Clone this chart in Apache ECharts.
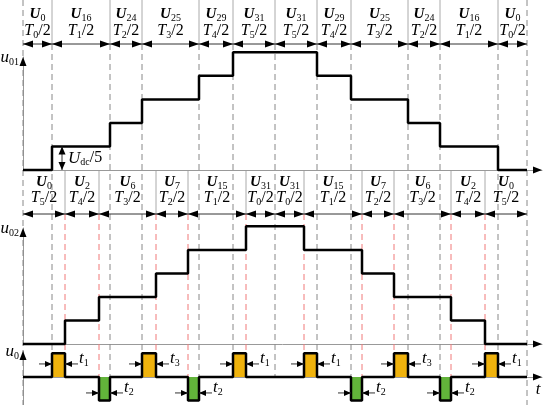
<!DOCTYPE html>
<html>
<head>
<meta charset="utf-8">
<script src="https://cdn.jsdelivr.net/npm/echarts@6/dist/echarts.min.js"></script>
<style>
html, body { margin: 0; padding: 0; background: #fff; }
#chart { width: 550px; height: 405px; }
</style>
</head>
<body>
<div id="chart"></div>
<script>
// half switching times T0/2 .. T5/2 (time units)
const halfT = [29, 58, 32, 57, 34, 42];

// upper sequence -> u01
const seq1Vec = ['0', '16', '24', '25', '29', '31', '31', '29', '25', '24', '16', '0'];
const seq1T = [0, 1, 2, 3, 4, 5, 5, 4, 3, 2, 1, 0];
const seq1Lvl = [0, 1, 2, 3, 4, 5, 5, 4, 3, 2, 1, 0];

// lower sequence -> u02
const seq2Vec = ['0', '2', '6', '7', '15', '31', '31', '15', '7', '6', '2', '0'];
const seq2T = [5, 4, 3, 2, 1, 0, 0, 1, 2, 3, 4, 5];
const seq2Lvl = [0, 1, 2, 3, 4, 5, 5, 4, 3, 2, 1, 0];

// pulse width names for u0 = u01 - u02
const pulseLabels = ['1', '2', '3', '2', '1', '1', '2', '3', '2', '1'];

const XMAX = 519;
const SERIF = '"Liberation Serif", "DejaVu Serif", serif';
const ORANGE = '#EFB20C';
const GREEN = '#62B43A';

function bounds(tIdx) {
  const b = [0];
  tIdx.forEach(k => b.push(b[b.length - 1] + halfT[k]));
  return b;
}
const b1 = bounds(seq1T);
const b2 = bounds(seq2T);
const END = b1[b1.length - 1];

function levelAt(b, lvl, t) {
  for (let i = 0; i < lvl.length; i++) if (t >= b[i] && t < b[i + 1]) return lvl[i];
  return 0;
}
function stepData(b, lvl) {
  return lvl.map((v, i) => [b[i], v]).concat([[b[b.length - 1], lvl[lvl.length - 1]]]);
}

const cuts = Array.from(new Set(b1.concat(b2))).sort((a, b) => a - b);
const u0Seg = [];
for (let i = 0; i < cuts.length - 1; i++) {
  const m = (cuts[i] + cuts[i + 1]) / 2;
  u0Seg.push([cuts[i], cuts[i + 1], levelAt(b1, seq1Lvl, m) - levelAt(b2, seq2Lvl, m)]);
}
const u0Line = u0Seg.map(s => [s[0], s[2]]).concat([[END, 0]]);
const u0Pos = u0Seg.map(s => [s[0], Math.max(s[2], 0)]).concat([[END, 0]]);
const u0Neg = u0Seg.map(s => [s[0], Math.min(s[2], 0)]).concat([[END, 0]]);
const pulses = u0Seg.filter(s => s[2] !== 0);

// vertical guide lines: 1 = outer edge, 0 = upper sequence, 2 = lower sequence
const guides = [];
b1.forEach((x, i) => guides.push([x, (i === 0 || i === b1.length - 1) ? 1 : 0]));
b2.forEach((x, i) => {
  if (i > 0 && i < b2.length - 1 && b1.indexOf(x) < 0) guides.push([x, 2]);
});

const RICH = {
  U: { fontFamily: SERIF, fontStyle: 'italic', fontWeight: 'bold', fontSize: 15, lineHeight: 22, verticalAlign: 'middle' },
  T: { fontFamily: SERIF, fontStyle: 'italic', fontSize: 16, lineHeight: 22, verticalAlign: 'middle' },
  i: { fontFamily: SERIF, fontStyle: 'italic', fontSize: 17, lineHeight: 22, verticalAlign: 'middle' },
  n: { fontFamily: SERIF, fontSize: 16, lineHeight: 22, verticalAlign: 'middle' },
  s: { fontFamily: SERIF, fontSize: 10, lineHeight: 12, padding: [9, 0, 0, 0], verticalAlign: 'middle' }
};

function seg(x1, y1, x2, y2, stroke, w, dash) {
  const style = { stroke: stroke, lineWidth: w || 1 };
  if (dash) style.lineDash = dash;
  return { type: 'line', shape: { x1, y1, x2, y2 }, style };
}
function head(tip, dir, len, half) {
  const x = tip[0], y = tip[1];
  let pts;
  if (dir === 'l') pts = [[x, y], [x + len, y - half], [x + len, y + half]];
  else if (dir === 'r') pts = [[x, y], [x - len, y - half], [x - len, y + half]];
  else if (dir === 'u') pts = [[x, y], [x - half, y + len], [x + half, y + len]];
  else pts = [[x, y], [x - half, y - len], [x + half, y - len]];
  return { type: 'polygon', shape: { points: pts }, style: { fill: '#000' } };
}
function txt(x, y, text, align) {
  return {
    type: 'text', x, y,
    style: { text, rich: RICH, align: align || 'center', verticalAlign: 'middle', fill: '#000', font: '16px ' + SERIF }
  };
}

function guideRender(params, api) {
  const g = guides[params.dataIndex];
  const x = api.coord([g[0], 0])[0];
  const Y = v => api.coord([0, v])[1];
  const D = [6, 4];
  if (g[1] === 1) return seg(x, Y(0), x, Y(405), '#888', 1, D);
  if (g[1] === 0) {
    return { type: 'group', children: [seg(x, Y(0), x, Y(44), '#aaa', 1), seg(x, Y(44), x, Y(377), '#888', 1, D)] };
  }
  return { type: 'group', children: [seg(x, Y(171), x, Y(214), '#aaa', 1), seg(x, Y(214), x, Y(377), '#F07878', 1, D)] };
}

function headerRender(vecs, tIdx, b, yU, yT, yA) {
  return function (params, api) {
    const i = params.dataIndex;
    const x0 = api.coord([b[i], 0])[0];
    const x1 = api.coord([b[i + 1], 0])[0];
    const Y = v => api.coord([0, v])[1];
    const ya = Y(yA), xm = (x0 + x1) / 2;
    return {
      type: 'group',
      children: [
        txt(xm, Y(yU), '{U|U}{s|' + vecs[i] + '}'),
        txt(xm, Y(yT), '{T|T}{s|' + tIdx[i] + '}{n|/2}'),
        seg(x0, ya, x1, ya, '#333', 1),
        head([x0, ya], 'l', 10, 3.5),
        head([x1, ya], 'r', 10, 3.5)
      ]
    };
  };
}

function axisRender(yMax, name, showT) {
  return function (params, api) {
    const top = api.coord([0, yMax]);
    const right = api.coord([XMAX, 0]);
    const kids = [
      head(top, 'u', 9, 3.5),
      head(right, 'r', 9, 3.5),
      txt(top[0] - 4, top[1] + 1, '{i|u}{s|' + name + '}', 'right')
    ];
    if (showT) kids.push(txt(right[0] - 4, right[1] + 13, '{i|t}'));
    return { type: 'group', children: kids };
  };
}

function pulseRender(params, api) {
  const i = params.dataIndex;
  const p = pulses[i];
  const a = api.coord([p[0], 0]);
  const c = api.coord([p[1], 0]);
  const ay = p[2] > 0 ? a[1] - 13 : a[1] + 16;
  return {
    type: 'group',
    children: [
      seg(a[0] - 13, ay, a[0], ay, '#333', 1),
      head([a[0], ay], 'r', 7, 3),
      seg(c[0] + 13, ay, c[0], ay, '#333', 1),
      head([c[0], ay], 'l', 7, 3),
      txt(c[0] + 14, ay - 5, '{i|t}{s|' + pulseLabels[i] + '}', 'left')
    ]
  };
}

function udcRender(params, api) {
  const p0 = api.coord([b1[1], 0]);
  const p1 = api.coord([b1[1], 1]);
  const x = p0[0] + 10;
  return {
    type: 'group',
    children: [
      seg(x, p0[1], x, p1[1], '#333', 1),
      head([x, p1[1]], 'u', 8, 3.5),
      head([x, p0[1]], 'd', 8, 3.5),
      txt(x + 6, (p0[1] + p1[1]) / 2, '{i|U}{s|dc}{n|/5}', 'left')
    ]
  };
}

const chart = echarts.init(document.getElementById('chart'));

function xAx(g) {
  return {
    gridIndex: g, type: 'value', min: 0, max: XMAX, show: g !== 0,
    axisLine: { onZero: true, lineStyle: { color: '#999', width: 1 } },
    axisTick: { show: false }, axisLabel: { show: false }, splitLine: { show: false }
  };
}
function yAx(g, min, max) {
  return {
    gridIndex: g, type: 'value', min: min, max: max,
    axisLine: { onZero: true, lineStyle: { color: '#999', width: 1 } },
    axisTick: { show: false }, axisLabel: { show: false }, splitLine: { show: false }
  };
}

const option = {
  animation: false,
  backgroundColor: '#fff',
  grid: [
    { left: 23, right: 8, top: 0, bottom: 0 },
    { left: 23, right: 8, top: 57, bottom: 235 },
    { left: 23, right: 8, top: 228, bottom: 61 },
    { left: 23, right: 8, top: 351, bottom: 0 }
  ],
  xAxis: [xAx(0), xAx(1), xAx(2), xAx(3)],
  yAxis: [
    { gridIndex: 0, type: 'value', min: 0, max: 405, inverse: true, show: false },
    yAx(1, 0, 4.8),
    yAx(2, 0, 4.93),
    yAx(3, -1.19, 1.1)
  ],
  series: [
    { type: 'custom', xAxisIndex: 0, yAxisIndex: 0, z: 1, silent: true, data: guides, renderItem: guideRender },
    {
      type: 'custom', xAxisIndex: 0, yAxisIndex: 0, z: 5, silent: true,
      data: seq1Vec.map((v, i) => [b1[i], b1[i + 1]]),
      renderItem: headerRender(seq1Vec, seq1T, b1, 14, 31, 44)
    },
    {
      type: 'custom', xAxisIndex: 0, yAxisIndex: 0, z: 5, silent: true,
      data: seq2Vec.map((v, i) => [b2[i], b2[i + 1]]),
      renderItem: headerRender(seq2Vec, seq2T, b2, 182, 198, 214)
    },
    {
      name: 'u01', type: 'line', xAxisIndex: 1, yAxisIndex: 1, step: 'end', symbol: 'none', clip: false, z: 3,
      lineStyle: { color: '#000', width: 2.5 }, data: stepData(b1, seq1Lvl)
    },
    {
      name: 'u02', type: 'line', xAxisIndex: 2, yAxisIndex: 2, step: 'end', symbol: 'none', clip: false, z: 3,
      lineStyle: { color: '#000', width: 2.5 }, data: stepData(b2, seq2Lvl)
    },
    {
      type: 'line', xAxisIndex: 3, yAxisIndex: 3, step: 'end', symbol: 'none', clip: false, z: 2,
      lineStyle: { opacity: 0 }, areaStyle: { color: ORANGE, opacity: 1 }, data: u0Pos
    },
    {
      type: 'line', xAxisIndex: 3, yAxisIndex: 3, step: 'end', symbol: 'none', clip: false, z: 2,
      lineStyle: { opacity: 0 }, areaStyle: { color: GREEN, opacity: 1 }, data: u0Neg
    },
    {
      name: 'u0', type: 'line', xAxisIndex: 3, yAxisIndex: 3, step: 'end', symbol: 'none', clip: false, z: 3,
      lineStyle: { color: '#000', width: 2.5 }, data: u0Line
    },
    { type: 'custom', xAxisIndex: 1, yAxisIndex: 1, z: 5, silent: true, data: [[0, 0]], renderItem: axisRender(4.8, '01', false) },
    { type: 'custom', xAxisIndex: 2, yAxisIndex: 2, z: 5, silent: true, data: [[0, 0]], renderItem: axisRender(4.93, '02', false) },
    { type: 'custom', xAxisIndex: 3, yAxisIndex: 3, z: 5, silent: true, data: [[0, 0]], renderItem: axisRender(1.1, '0', true) },
    { type: 'custom', xAxisIndex: 3, yAxisIndex: 3, z: 5, silent: true, data: pulses.map(p => [p[0], p[1]]), renderItem: pulseRender },
    { type: 'custom', xAxisIndex: 1, yAxisIndex: 1, z: 5, silent: true, data: [[b1[1], 1]], renderItem: udcRender }
  ]
};

chart.setOption(option);
</script>
</body>
</html>
